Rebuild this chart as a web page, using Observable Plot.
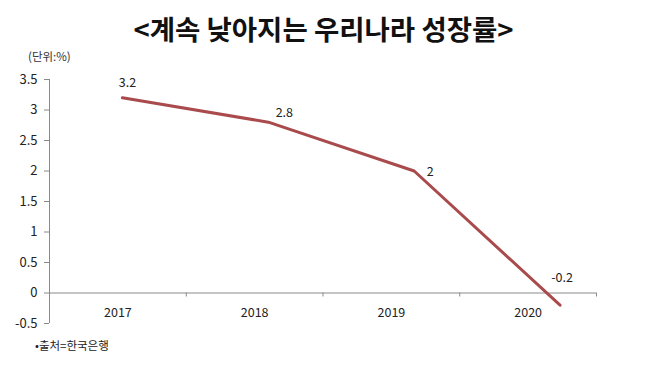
<!DOCTYPE html>
<html><head><meta charset="utf-8">
<script src="https://cdn.jsdelivr.net/npm/d3@7"></script>
<script src="https://cdn.jsdelivr.net/npm/@observablehq/plot@0.6"></script>
<style>
body{margin:0;background:#fff;font-family:"Noto Sans CJK KR","Noto Sans",sans-serif;}
#wrap{position:relative;width:647px;height:381px;overflow:hidden;}
#title{height:45px;width:647px;text-align:center;font-size:27.5px;font-weight:bold;line-height:56px;color:#111;}
#unit{position:absolute;left:28px;top:48px;font-size:11.5px;color:#333;}
#caption{position:absolute;left:35px;top:337px;font-size:11.5px;color:#222;}
</style></head>
<body><div id="wrap">
<div id="title">&lt;계속 낮아지는 우리나라 성장률&gt;</div>
<div id="chart"></div>
<div id="unit">(단위:%)</div>
<div id="caption">•출처=한국은행</div>
</div>
<script>
const years = [2017, 2018, 2019, 2020];
const yearLabels = ["2017", "2018", "2019", "2020"];
const growth = [3.2, 2.8, 2, -0.2];
const yTicks = [-0.5, 0, 0.5, 1, 1.5, 2, 2.5, 3, 3.5];

const data = years.map((year, i) => ({year, value: growth[i], label: String(growth[i])}));
const xDomain = [2016.5, 2020.25];
const step = (xDomain[1] - xDomain[0]) / years.length;
const cats = yearLabels.map((label, i) => ({x: xDomain[0] + (i + 0.5) * step, y: 0, label}));
const bounds = yearLabels.map((_, i) => xDomain[0] + (i + 1) * step);
const labelOffsets = [[5, -15], [16, -9], [16, 1], [2, -27]];

const axisGray = "#8a8a8a";
const chart = Plot.plot({
  width: 647, height: 298,
  marginLeft: 49, marginRight: 51, marginTop: 34, marginBottom: 20,
  style: {fontFamily: '"Noto Sans CJK KR","Noto Sans",sans-serif', fontSize: "12.5px", color: "#222", background: "#fff"},
  x: {domain: xDomain, axis: null},
  y: {domain: [-0.5, 3.5], axis: null},
  marks: [
    Plot.ruleX([xDomain[0]], {stroke: axisGray}),
    Plot.ruleY([0], {stroke: axisGray}),
    Plot.ruleX(bounds, {x: d => d, y1: 0, y2: 0, insetBottom: -4, stroke: axisGray}),
    Plot.axisY(yTicks, {tickSize: 5, tickPadding: 7, tickFormat: d => String(d), stroke: axisGray, fill: "#222", fontSize: 13}),
    Plot.text(cats, {x: "x", y: "y", text: "label", dy: 20, fill: "#222", fontSize: 12.5}),
    Plot.line(data, {x: "year", y: "value", stroke: "#a94b4d", strokeWidth: 3}),
    ...data.map((d, i) => Plot.text([d], {x: "year", y: "value", text: "label", dx: labelOffsets[i][0], dy: labelOffsets[i][1], fill: "#222", fontSize: 12.5}))
  ]
});
document.getElementById("chart").appendChild(chart);
</script>
</body></html>
